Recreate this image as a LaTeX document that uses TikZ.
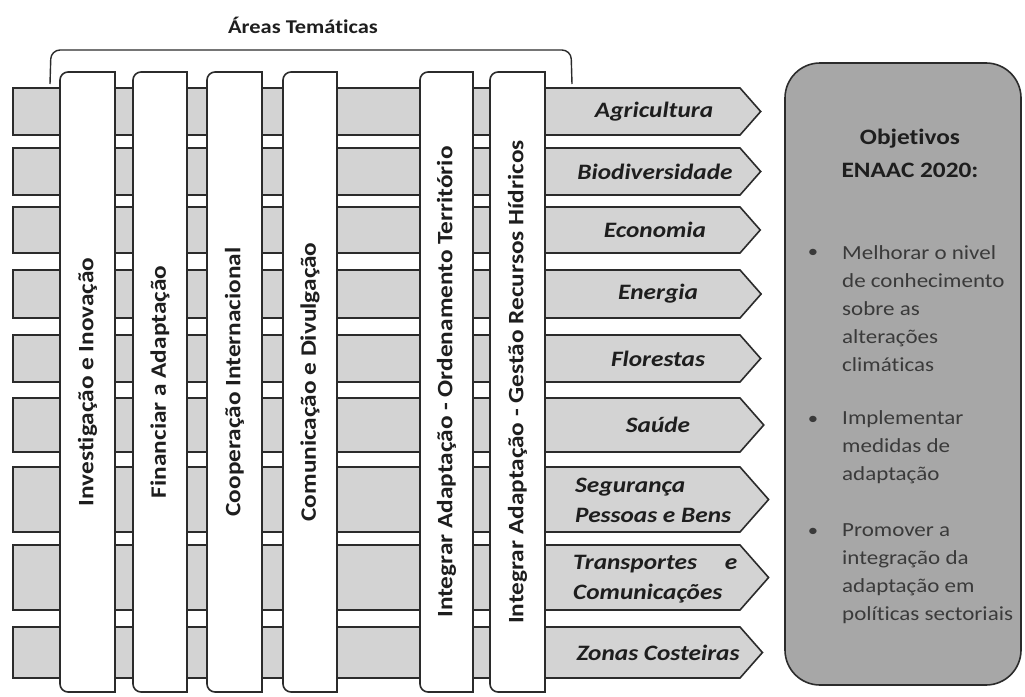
\documentclass[tikz,border=0pt]{standalone}
\usepackage{fontspec}
\setmainfont{Carlito}[FakeStretch=1.15, Ligatures={NoCommon}]
\definecolor{bandgray}{HTML}{D3D3D3}
\definecolor{boxgray}{HTML}{A7A7A7}
\definecolor{linedark}{HTML}{2B2B2B}
\definecolor{textdark}{HTML}{1E1E1E}
\definecolor{bodytext}{HTML}{3A3A3A}
\begin{document}
\begin{tikzpicture}[x=1pt,y=-1pt,
  band/.style={fill=bandgray, draw=linedark, line width=1.6pt, line join=miter},
  colbox/.style={fill=white, draw=linedark, line width=1.6pt},
  coltext/.style={rotate=90, font=\fontsize{22}{26}\selectfont\bfseries, text=textdark, inner sep=0pt},
  arrtext/.style={font=\fontsize{22}{30}\selectfont\bfseries\itshape, text=textdark, inner sep=0pt, align=left},
  headtext/.style={font=\fontsize{22}{33}\selectfont\bfseries, text=textdark, inner sep=0pt, align=center},
  bodystyle/.style={font=\fontsize{20}{28}\selectfont, text=bodytext, inner sep=0pt, align=left},
  bulletstyle/.style={font=\fontsize{18}{28}\selectfont, text=bodytext, inner sep=0pt}]
\useasboundingbox (0,0) rectangle (1025,696);

% title and bracket
\node[font=\fontsize{19.5}{22}\selectfont\bfseries, text=textdark, inner sep=0pt] (title) at (303,25) {Áreas Temáticas};
\draw[line width=1.4pt, draw=linedark, rounded corners=9pt] (50,84) -- (51,50) -- (571,50) -- (572,84);

% horizontal bands with arrow heads
\foreach \t/\b in {88/135,148/195,207/253,270/318,335/382,398/452,467/532,545/610,627/678}{
  \draw[band] (13,\t) -- (740,\t) -- ({740+0.44*(\b-\t)},{(\t+\b)/2}) -- (740,\b) -- (13,\b) -- cycle;
}

% vertical theme columns
\foreach \a/\b in {60/115,133/187,207/262,283/337,420/473,490/545}{
  \draw[colbox] (\b,72) -- ({\a+8},72) arc[start angle=90,end angle=180,radius=8pt] -- (\a,684) arc[start angle=180,end angle=270,radius=8pt] -- (\b,692) -- cycle;
}

\node[coltext] (c1) at (87.5,382) {Investigação e Inovação};
\node[coltext] (c2) at (160,382) {Financiar a Adaptação};
\node[coltext] (c3) at (234.5,382) {Cooperação Internacional};
\node[coltext] (c4) at (310,382) {Comunicação e Divulgação};
\node[coltext] (c5) at (446.5,382) {Integrar Adaptação - Ordenamento Território};
\node[coltext] (c6) at (517.5,382) {Integrar Adaptação - Gestão Recursos Hídricos};

% sector labels
\node[arrtext] (s1) at (654,111.5) {Agricultura};
\node[arrtext] (s2) at (655,171.5) {Biodiversidade};
\node[arrtext] (s3) at (655,230) {Economia};
\node[arrtext] (s4) at (658,294) {Energia};
\node[arrtext] (s5) at (658,358.5) {Florestas};
\node[arrtext] (s6) at (658,425) {Saúde};
\node[arrtext, anchor=west] (s7) at (575,500) {Segurança\\Pessoas e Bens};
\node[arrtext, anchor=west] (s8) at (573,579) {\makebox[164pt][l]{Transportes\hfill e}\\Comunicações};
\node[arrtext] (s9) at (658,652.5) {Zonas Costeiras};

% objectives box
\node[draw=linedark, line width=1.6pt, fill=boxgray, rounded corners=35pt, minimum width=236pt, minimum height=622pt, inner sep=0pt] (goals) at (903,374) {};
\node[headtext] (head) at (910,153.5) {Objetivos\\ENAAC 2020:};

\node[bulletstyle] (b1) at (813,253) {•};
\node[bodystyle, anchor=west] (t1) at (842,309) {Melhorar o nivel\\de conhecimento\\sobre as\\alterações\\climáticas};
\node[bulletstyle] (b2) at (813,420) {•};
\node[bodystyle, anchor=west] (t2) at (842,447.5) {Implementar\\medidas de\\adaptação};
\node[bulletstyle] (b3) at (813,532) {•};
\node[bodystyle, anchor=west] (t3) at (842,573.5) {Promover a\\integração da\\adaptação em\\políticas sectoriais};
\end{tikzpicture}
\end{document}
